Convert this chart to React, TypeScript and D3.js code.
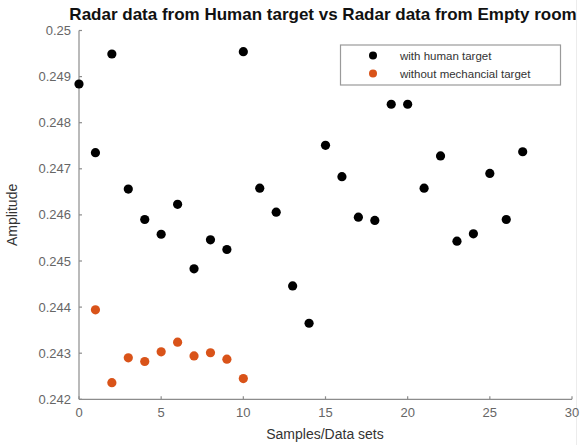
import React from "react";
import * as d3 from "d3";

const humanX = [0, 1, 2, 3, 4, 5, 6, 7, 8, 9, 10, 11, 12, 13, 14, 15, 16, 17, 18, 19, 20, 21, 22, 23, 24, 25, 26, 27];
const humanY = [0.24884, 0.24735, 0.24949, 0.24656, 0.2459, 0.24558, 0.24623, 0.24483, 0.24546, 0.24525, 0.24954, 0.24658, 0.24606, 0.24446, 0.24365, 0.24751, 0.24683, 0.24595, 0.24588, 0.2484, 0.2484, 0.24658, 0.24728, 0.24543, 0.24559, 0.2469, 0.2459, 0.24737];
const emptyX = [1, 2, 3, 4, 5, 6, 7, 8, 9, 10];
const emptyY = [0.24394, 0.24236, 0.2429, 0.24282, 0.24303, 0.24324, 0.24294, 0.24301, 0.24287, 0.24245];
const xTicks = [0, 5, 10, 15, 20, 25, 30];
const yTicks = [0.242, 0.243, 0.244, 0.245, 0.246, 0.247, 0.248, 0.249, 0.25];
const yTickLabels = ["0.242", "0.243", "0.244", "0.245", "0.246", "0.247", "0.248", "0.249", "0.25"];
const seriesNames = ["with human target", "without mechancial target"];
const seriesColors = ["#000000", "#D95319"];
const title = "Radar data from Human target vs Radar data from Empty room";
const xLabel = "Samples/Data sets";
const yLabel = "Amplitude";

export default function App() {
  const W = 587, H = 445;
  const left = 79, right = 572, top = 30.5, bottom = 399.3;
  const x = d3.scaleLinear().domain([0, 30]).range([left, right]);
  const y = d3.scaleLinear().domain([0.242, 0.25]).range([bottom, top]);
  const font = "'Liberation Sans', Arial, sans-serif";
  const axisColor = "#8c8c8c";
  const tickText = "#666666";
  const series = [
    { xs: humanX, ys: humanY, color: seriesColors[0] },
    { xs: emptyX, ys: emptyY, color: seriesColors[1] },
  ];
  return (
    <svg width={W} height={H} style={{ position: "absolute", left: 0, top: 0, background: "#fff" }} fontFamily={font}>
      <rect x={0} y={0} width={W} height={H} fill="#fff" />
      <line x1={576.5} x2={576.5} y1={0} y2={H} stroke="#ececec" />
      <text x={323} y={20} textAnchor="middle" fontWeight="bold" fontSize={17} fill="#111">{title}</text>
      {/* axes */}
      <line x1={left} x2={left} y1={top} y2={bottom} stroke={axisColor} strokeWidth={1.2} />
      <line x1={left} x2={right} y1={bottom} y2={bottom} stroke={axisColor} strokeWidth={1.2} />
      {yTicks.map((t, i) => (
        <g key={"y" + i}>
          <line x1={left} x2={left + 3} y1={y(t)} y2={y(t)} stroke={axisColor} strokeWidth={1.2} />
          <text x={left - 8} y={y(t)} dy="0.35em" textAnchor="end" fontSize={13} fill={tickText}>{yTickLabels[i]}</text>
        </g>
      ))}
      {xTicks.map((t, i) => (
        <g key={"x" + i}>
          <line x1={x(t)} x2={x(t)} y1={bottom} y2={bottom - 3} stroke={axisColor} strokeWidth={1.2} />
          <text x={x(t)} y={bottom + 18} textAnchor="middle" fontSize={13} fill={tickText}>{String(t)}</text>
        </g>
      ))}
      <text x={325} y={439} textAnchor="middle" fontSize={14} fill="#333">{xLabel}</text>
      <text transform={`translate(17,${(top + bottom) / 2}) rotate(-90)`} textAnchor="middle" fontSize={14} fill="#333">{yLabel}</text>
      {/* points */}
      {series.map((s, si) =>
        s.xs.map((xv, i) => (
          <circle key={si + "-" + i} cx={x(xv)} cy={y(s.ys[i])} r={4.6} fill={s.color} />
        ))
      )}
      {/* legend */}
      <rect x={340.5} y={45} width={220} height={40} fill="#fff" stroke="#9a9a9a" strokeWidth={1.2} />
      {seriesNames.map((n, i) => (
        <g key={"l" + i}>
          <circle cx={373} cy={55.5 + i * 18} r={4} fill={seriesColors[i]} />
          <text x={400} y={55.5 + i * 18} dy="0.35em" fontSize={11.5} fill="#333">{n}</text>
        </g>
      ))}
    </svg>
  );
}
